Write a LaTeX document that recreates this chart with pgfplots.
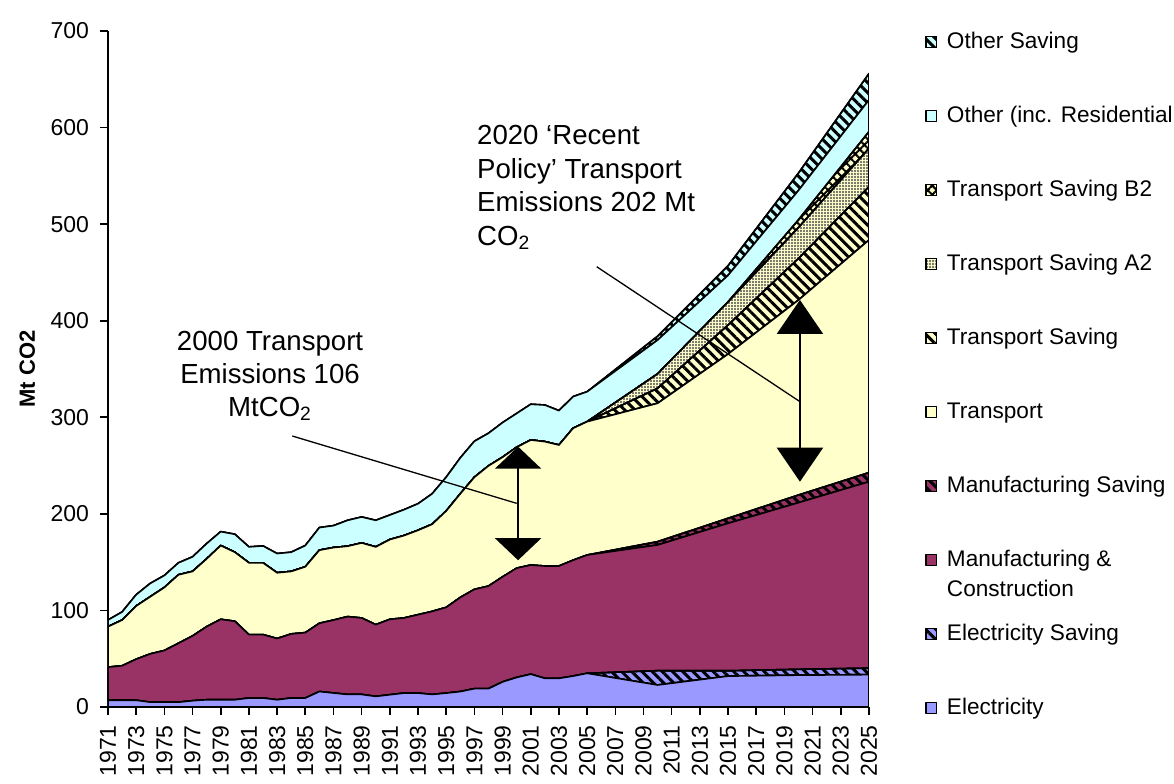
\documentclass[border=0pt]{standalone}
\usepackage{fontspec}
\setmainfont{Liberation Sans}
\usepackage{pgfplots}
\pgfplotsset{compat=1.18}
\usepackage{pgfplotstable}
\usetikzlibrary{patterns.meta,arrows.meta}

\definecolor{elec}{HTML}{9999FF}
\definecolor{manu}{HTML}{993366}
\definecolor{trans}{HTML}{FFFFCC}
\definecolor{other}{HTML}{CCFFFF}

% thickness of each layer, Mt CO2 (stacked bottom to top)
\pgfplotstableread{
year E ES M MS T TS A2 B2 O OS
1971 7 0 34.3 0 41.9 0 0 0 6.9 0
1972 7 0 35.7 0 47.3 0 0 0 8.4 0
1973 7 0 42.5 0 55.1 0 0 0 11.7 0
1974 5 0 50 0 59.2 0 0 0 13.8 0
1975 5 0 53.5 0 65.3 0 0 0 12.4 0
1976 5 0 61 0 70.9 0 0 0 12.4 0
1977 6.5 0 67.1 0 66.8 0 0 0 15.1 0
1978 7.5 0 75.7 0 70.2 0 0 0 15.8 0
1979 7.5 0 83.3 0 76.4 0 0 0 14.4 0
1980 7.5 0 81.3 0 71.5 0 0 0 18.6 0
1981 9.3 0 65.7 0 74.3 0 0 0 16.5 0
1982 9.3 0 65.7 0 74.3 0 0 0 17.5 0
1983 7.5 0 63.4 0 68.1 0 0 0 19.9 0
1984 9.3 0 66.4 0 64.7 0 0 0 19.9 0
1985 9.3 0 67.7 0 68.2 0 0 0 22 0
1986 16 0 70.7 0 75.7 0 0 0 23.4 0
1987 14.5 0 75.5 0 75.1 0 0 0 22.7 0
1988 13 0 80.6 0 72.9 0 0 0 26.8 0
1989 13 0 79.2 0 77.7 0 0 0 26.9 0
1990 11 0 74.3 0 80.5 0 0 0 27.5 0
1991 12.7 0 78.1 0 82.6 0 0 0 25.4 0
1992 14.4 0 77.8 0 85.3 0 0 0 26.8 0
1993 14.4 0 81.2 0 87.4 0 0 0 27.5 0
1994 13 0 86 0 90.2 0 0 0 31.6 0
1995 14.4 0 88.8 0 99.8 0 0 0 35 0
1996 16 0 97.5 0 107.3 0 0 0 37.2 0
1997 19 0 102.8 0 116.2 0 0 0 37.2 0
1998 19 0 106.2 0 124.5 0 0 0 33.8 0
1999 26 0 108.8 0 123.9 0 0 0 35.8 0
2000 30.6 0 113.2 0 125.2 0 0 0 35 0
2001 34 0 113 0 129.5 0 0 0 37 0
2002 29.7 0 116.3 0 128.8 0 0 0 37.9 0
2003 29.7 0 116.3 0 125.3 0 0 0 35.6 0
2004 32 0 120 0 136.6 0 0 0 32.8 0
2005 34.9 0 122.5 0 138.1 0 0 0 31 0
2010 22.8 14.8 130.2 3.4 143.3 15.5 15 0 35 4
2015 32 5.5 152.7 5.2 170.1 30 24 0 27.5 10
2020 33 6 172.6 7.9 202 43 32 8 30.5 18
2025 33.5 6.7 193.1 9.4 240.9 55.2 39.7 17.3 32.8 27.4
}\emissions

\pgfplotsset{
  layer/.style={fill=#1, draw=black, line width=0.8pt, line join=round},
  saving/.style={postaction={pattern={Lines[angle=-45,distance=3.6pt,line width=1.5pt]}, pattern color=black}},
}

\begin{document}
\begin{tikzpicture}
\useasboundingbox (-54pt,-38pt) rectangle (533pt,353.5pt);
\begin{axis}[
  at={(0,0)}, anchor=south west,
  scale only axis, width=380.5pt, height=338pt,
  xmin=1971, xmax=2025, ymin=0, ymax=700,
  axis lines=left,
  axis line style={-, line width=0.8pt},
  stack plots=y,
  xtick={1971,1973,...,2025},
  ytick={0,100,...,700},
  tick align=outside, major tick length=4pt,
  tick style={black, line width=0.8pt},
  /pgf/number format/1000 sep={},
  /pgf/number format/assume math mode=true,
  tick label style={font=\fontsize{11.5}{13}\selectfont},
  xticklabel style={rotate=90, anchor=east, inner sep=0pt},
  xticklabel shift=5pt,
  yticklabel style={xshift=-2pt},
  ylabel={Mt CO2},
  ylabel style={font=\bfseries\fontsize{11}{13}\selectfont, at={(axis description cs:-0.106,0.5)}, anchor=center},
  reverse legend,
  legend cell align=left,
  legend style={draw=none, fill=none, at={(1.0736,1)}, anchor=north west, inner sep=0pt,
    row sep=26.5pt, font=\fontsize{11.3}{15}\selectfont,
    nodes={inner xsep=5pt, inner ysep=0pt, text height=8.3pt, text depth=2.2pt}},
  legend image code/.code={\draw[#1, line width=0.6pt] (0pt,-2.6pt) rectangle (5.2pt,2.6pt);},
]
\addplot[layer=elec] table[x=year, y=E]{\emissions} \closedcycle;
\addlegendentry{Electricity}
\addplot[layer=elec, saving] table[x=year, y=ES]{\emissions} \closedcycle;
\addlegendentry{Electricity Saving}
\addplot[layer=manu] table[x=year, y=M]{\emissions} \closedcycle;
\addlegendentry{\vtop{\hbox{Manufacturing \&}\hbox{Construction}}}
\addplot[layer=manu, saving] table[x=year, y=MS]{\emissions} \closedcycle;
\addlegendentry{Manufacturing Saving}
\addplot[layer=trans] table[x=year, y=T]{\emissions} \closedcycle;
\addlegendentry{Transport}
\addplot[layer=trans, saving] table[x=year, y=TS]{\emissions} \closedcycle;
\addlegendentry{Transport Saving}
\addplot[layer=trans, postaction={pattern={Dots[distance=1.5pt,radius=0.55pt]}, pattern color=black!70}] table[x=year, y=A2]{\emissions} \closedcycle;
\addlegendentry{Transport Saving A2}
\addplot[layer=trans, postaction={pattern={Hatch[angle=45,distance=3.2pt,line width=1pt]}, pattern color=black}] table[x=year, y=B2]{\emissions} \closedcycle;
\addlegendentry{Transport Saving B2}
\addplot[layer=other] table[x=year, y=O]{\emissions} \closedcycle;
\addlegendentry{Other (inc. Residential}
\addplot[layer=other, saving] table[x=year, y=OS]{\emissions} \closedcycle;
\addlegendentry{Other Saving}

% anchor points for the annotations, drawn above the areas after the axis
\coordinate (l1a) at (axis cs:1984.08,280.6);
\coordinate (l1b) at (axis cs:2000.0,210.9);
\coordinate (a1t) at (axis cs:2000.1,269.6);
\coordinate (a1b) at (axis cs:2000.1,152);
\coordinate (l2a) at (axis cs:2005.68,455.9);
\coordinate (l2b) at (axis cs:2020.11,316.1);
\coordinate (a2t) at (axis cs:2020.1,421.5);
\coordinate (a2b) at (axis cs:2020.1,233.3);
\coordinate (t1) at (axis cs:1982.5,390);
\coordinate (t2) at (axis cs:1997.17,602.7);
\end{axis}
\draw[line width=0.65pt] (l1a) -- (l1b);
\draw[line width=1pt, {Triangle[width=23pt,length=11pt]}-{Triangle[width=23pt,length=11pt]}] (a1t) -- (a1b);
\draw[line width=0.65pt] (l2a) -- (l2b);
\draw[line width=1pt, {Triangle[width=23pt,length=17pt]}-{Triangle[width=23pt,length=17pt]}] (a2t) -- (a2b);
\node[anchor=north, align=center, inner sep=0pt, font=\fontsize{13.8}{16.5}\selectfont]
  at (t1) {2000 Transport\\Emissions 106\\MtCO\textsubscript{2}};
\node[anchor=north west, align=left, inner sep=0pt, font=\fontsize{13.8}{16.8}\selectfont]
  at (t2) {2020 ‘Recent\\Policy’ Transport\\Emissions 202 Mt\\CO\textsubscript{2}};
\end{tikzpicture}
\end{document}
